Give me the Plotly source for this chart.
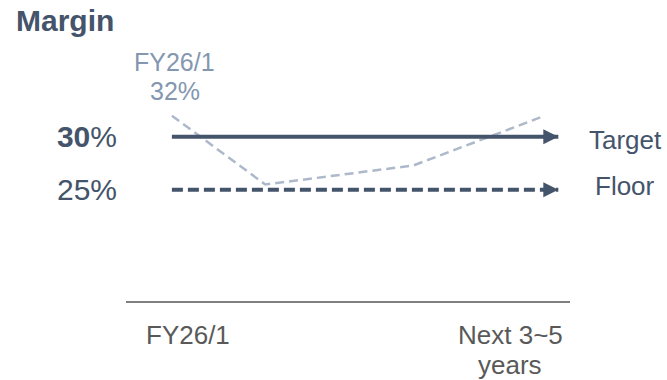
import plotly.graph_objects as go

# ---- data -------------------------------------------------------------
period_pos = [0, 1]                       # positions of the two periods on the time axis
period_labels = ["FY26/1", "Next 3~5<br>years"]

guide_names = ["Target", "Floor"]
guide_values = [30, 25]                   # margin levels, %
guide_span = [-0.05, 1.15]                # start / end of the guide arrows on the time axis

trend_pos = [-0.05, 0.24, 0.70, 1.10]     # path of the indicative margin trend
trend_values = [32, 25.5, 27.3, 31.9]
trend_label = "FY26/1"

ytick_vals = [25, 30]
ytick_text = ["25%", "<b>30</b>%"]

# ---- style ------------------------------------------------------------
FONT = "Liberation Sans, Arial, sans-serif"
DARK = "#44546a"
LIGHT = "#adb9ca"
MID = "#8497b0"
GREY = "#595959"

fig = go.Figure()

# indicative trend line (light dashed)
fig.add_trace(go.Scatter(
    x=trend_pos, y=trend_values, mode="lines",
    line=dict(color=LIGHT, width=2.5, dash="9px,5px"),
    hoverinfo="skip", showlegend=False,
))

# target (solid) and floor (dashed) guide arrows
for name, val, dash in zip(guide_names, guide_values, ["solid", "11px,5px"]):
    fig.add_trace(go.Scatter(
        x=guide_span, y=[val, val], mode="lines",
        line=dict(color=DARK, width=4, dash=dash),
        hoverinfo="skip", showlegend=False,
    ))
    fig.add_trace(go.Scatter(
        x=[guide_span[1]], y=[val], mode="markers",
        marker=dict(symbol="arrow-right", size=15, color=DARK,
                    line=dict(width=0)),
        hoverinfo="skip", showlegend=False,
    ))
    fig.add_annotation(
        x=guide_span[1], y=val, xref="x", yref="y",
        text=name, showarrow=False, xanchor="center", yanchor="middle",
        xshift=67, yshift=-3 if val == max(guide_values) else 4,
        font=dict(family=FONT, size=26, color=DARK),
    )

# label over the first trend point
fig.add_annotation(
    x=trend_pos[0], y=trend_values[0], xref="x", yref="y",
    text=trend_label, showarrow=False, xanchor="center", yanchor="bottom",
    xshift=3, yshift=38,
    font=dict(family=FONT, size=25, color=MID),
)
fig.add_annotation(
    x=trend_pos[0], y=trend_values[0], xref="x", yref="y",
    text=f"{trend_values[0]:.0f}%", showarrow=False, xanchor="center", yanchor="bottom",
    xshift=3, yshift=9,
    font=dict(family=FONT, size=25, color=MID),
)

# period labels under the axis, one line at a time for tighter leading
for pos, label in zip(period_pos, period_labels):
    for i, line in enumerate(label.split("<br>")):
        fig.add_annotation(
            x=pos, y=0, xref="x", yref="paper",
            text=line, showarrow=False, xanchor="center", yanchor="middle",
            yshift=-34 - 30 * i,
            font=dict(family=FONT, size=26, color=GREY),
        )

fig.update_layout(
    width=667, height=380,
    margin=dict(l=126, r=97, t=50, b=79),
    paper_bgcolor="white", plot_bgcolor="white",
    title=dict(
        text="<b>Margin</b>", x=16 / 667, xanchor="left",
        xref="container", y=0.975, yanchor="top",
        font=dict(family=FONT, size=30, color=DARK),
    ),
    xaxis=dict(
        range=[-0.1925, 1.1863], showgrid=False, zeroline=False,
        showline=True, linecolor="#808080", linewidth=1.5,
        tickvals=period_pos, showticklabels=False, ticks="",
        automargin=False,
    ),
    yaxis=dict(
        range=[14.5, 38.2], showgrid=False, zeroline=False, showline=False,
        tickvals=ytick_vals, ticktext=ytick_text, ticks="",
        ticklabelstandoff=8, automargin=False,
        tickfont=dict(family=FONT, size=30, color=DARK),
    ),
)

fig.write_html("out.html")
